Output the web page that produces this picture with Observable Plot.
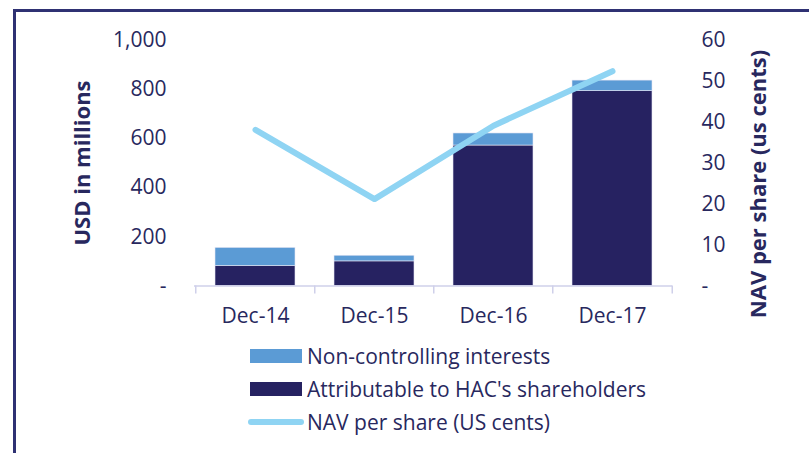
<!DOCTYPE html>
<html>
<head>
<meta charset="utf-8">
<script src="https://cdn.jsdelivr.net/npm/d3@7"></script>
<script src="https://cdn.jsdelivr.net/npm/@observablehq/plot@0.6"></script>
<style>
  html, body { margin: 0; padding: 0; background: #fff; }
  #wrap { position: relative; width: 809px; height: 453px; overflow: hidden; font-family: "Open Sans", sans-serif; color: #28285e; }
  #frame { position: absolute; left: 13px; top: 9px; width: 900px; height: 600px; border-left: 3px solid #2f3173; border-top: 3px solid #2f3173; box-sizing: border-box; }
  #chart { position: absolute; left: 0; top: 0; }
  #legend { position: absolute; left: 250px; top: 340px; font-size: 21px; }
  .item { position: absolute; left: 0; white-space: nowrap; height: 24px; }
  .sw { position: absolute; left: 0; width: 52px; }
  .lab { position: absolute; left: 57px; top: 50%; transform: translateY(-50%); line-height: 1; }
</style>
</head>
<body>
<div id="wrap">
  <div id="frame"></div>
  <div id="chart"></div>
  <div id="legend"></div>
</div>
<script>
const categories = ["Dec-14", "Dec-15", "Dec-16", "Dec-17"];
const attributable = [81, 100, 571, 792];
const nonControlling = [74, 23, 49, 43];
const navCents = [38.1, 21.2, 39.1, 52.4];
const leftTicks = [0, 200, 400, 600, 800, 1000];
const rightTicks = [0, 10, 20, 30, 40, 50, 60];
const seriesNames = ["Attributable to HAC's shareholders", "Non-controlling interests"];
const lineName = "NAV per share (US cents)";

const colAttr = "#262261";
const colNC = "#5b9bd5";
const colLine = "#8fd4f3";
const textCol = "#28285e";

const ratio = 1000 / 60;
const barData = [];
categories.forEach((c, i) => {
  barData.push({date: c, series: seriesNames[0], value: attributable[i]});
  barData.push({date: c, series: seriesNames[1], value: nonControlling[i]});
});
const lineData = categories.map((c, i) => ({date: c, nav: navCents[i]}));

const W = 809, H = 340;
const mL = 194, mR = 137, mT = 39.5, mB = H - 285.5;
const step = (W - mL - mR) / categories.length;

const chart = Plot.plot({
  width: W, height: H,
  marginLeft: mL, marginRight: mR, marginTop: mT, marginBottom: mB,
  style: {fontFamily: "'Open Sans', sans-serif", fontSize: "21px", color: textCol, background: "transparent", overflow: "visible"},
  x: {domain: categories, paddingInner: 0.33, paddingOuter: 0.165, axis: null},
  y: {domain: [0, 1000], axis: null},
  color: {domain: seriesNames, range: [colAttr, colNC]},
  marks: [
    Plot.barY(barData, {x: "date", y: "value", fill: "series", stroke: "#e6e6f4", strokeWidth: 0.6}),
    Plot.ruleY([0], {stroke: "#cfd0ea", strokeWidth: 1.5}),
    Plot.ruleX(categories, {x: d => d, dx: -step / 2, y1: 0, y2: 0, insetBottom: -8, stroke: "#cfd0ea", strokeWidth: 1.5}),
    Plot.ruleX([categories[categories.length - 1]], {x: d => d, dx: step / 2, y1: 0, y2: 0, insetBottom: -8, stroke: "#cfd0ea", strokeWidth: 1.5}),
    Plot.axisX({tickSize: 0, tickPadding: 22, fontSize: 21, fill: textCol, label: null}),
    Plot.axisY(leftTicks, {anchor: "left", tickSize: 0, tickPadding: 28, tickFormat: d => d === 0 ? "-" : d3.format(",")(d), fontSize: 21, fill: textCol, label: null}),
    Plot.axisY(rightTicks.map(v => v * ratio), {anchor: "right", tickSize: 0, tickPadding: 29, tickFormat: d => { const v = Math.round(d / ratio); return v === 0 ? "-" : String(v); }, fontSize: 21, fill: textCol, label: null}),
    Plot.line(lineData, {x: "date", y: d => d.nav * ratio, stroke: colLine, strokeWidth: 6, strokeLinecap: "round", strokeLinejoin: "round"}),
    Plot.text(["USD in millions"], {frameAnchor: "left", textAnchor: "middle", lineAnchor: "middle", dx: -112, rotate: -90, fontWeight: "bold", fontSize: 22, fill: textCol}),
    Plot.text(["NAV per share (us cents)"], {frameAnchor: "right", textAnchor: "middle", lineAnchor: "middle", dx: 86, dy: 21, rotate: -90, fontWeight: "bold", fontSize: 22, fill: textCol})
  ]
});
document.getElementById("chart").appendChild(chart);

const legend = document.getElementById("legend");
const items = [
  {label: seriesNames[1], type: "box", color: colNC, top: 4},
  {label: seriesNames[0], type: "box", color: colAttr, top: 37},
  {label: lineName, type: "line", color: colLine, top: 70}
];
items.forEach(it => {
  const div = document.createElement("div");
  div.className = "item";
  div.style.top = it.top + "px";
  const sw = document.createElement("div");
  sw.className = "sw";
  sw.style.background = it.color;
  if (it.type === "box") { sw.style.height = "14px"; sw.style.top = "5px"; }
  else { sw.style.height = "6px"; sw.style.top = "9px"; sw.style.borderRadius = "3px"; sw.style.left = "-2px"; sw.style.width = "56px"; }
  const lab = document.createElement("span");
  lab.className = "lab";
  lab.textContent = it.label;
  div.appendChild(sw);
  div.appendChild(lab);
  legend.appendChild(div);
});
</script>
</body>
</html>
